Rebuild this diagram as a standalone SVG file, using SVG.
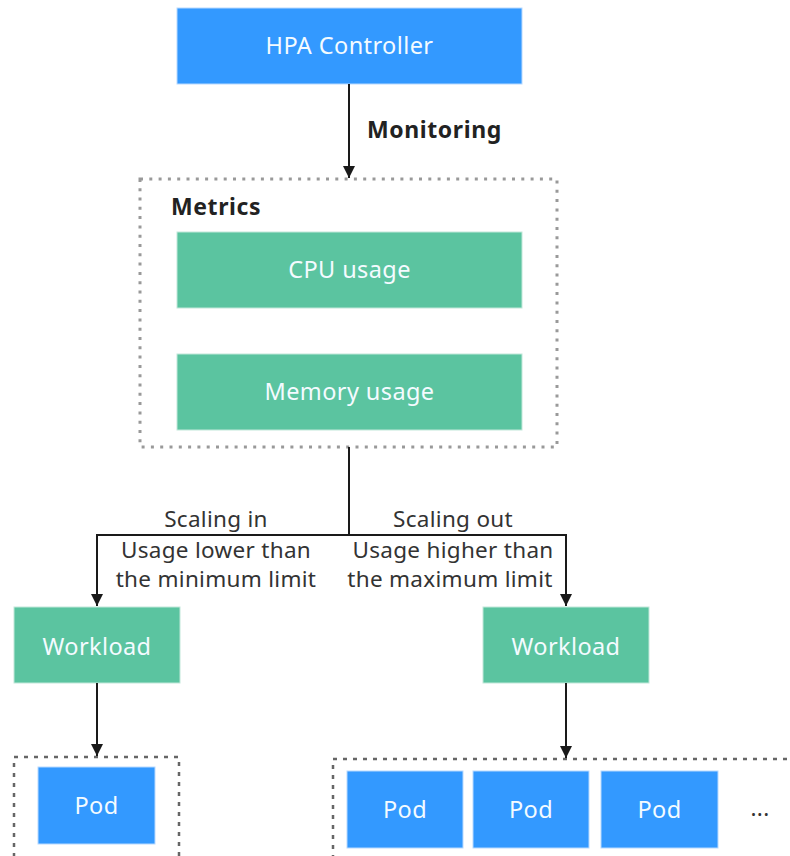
<svg xmlns="http://www.w3.org/2000/svg" width="790" height="856" viewBox="0 0 790 856">
  <defs>
    <marker id="arrow" viewBox="0 0 10 10" refX="10" refY="5" markerWidth="12" markerHeight="12" markerUnits="userSpaceOnUse" orient="auto">
      <path d="M0,0 L10,5 L0,10 z" fill="#1a1a1a"/>
    </marker>
    <style>
      .blue { fill: #3399ff; stroke: #b8d9ff; stroke-width: 1; }
      .green { fill: #5bc4a0; stroke: #c2e8da; stroke-width: 1; }
      .lbl { font-family: "Noto Sans", "Open Sans", sans-serif; font-size: 23.5px; letter-spacing: 0.4px; fill: #f4fbff; text-anchor: middle; }
      .cap { font-family: "Noto Sans", "Open Sans", sans-serif; font-size: 22.5px; letter-spacing: 0.3px; fill: #333; text-anchor: middle; }
      .bold { font-family: "Noto Sans", "Open Sans", sans-serif; font-size: 23px; letter-spacing: 0.6px; font-weight: bold; fill: #222; }
      .dots { fill: none; stroke: #999; stroke-width: 3; stroke-dasharray: 3 6.3; }
      .dash { fill: none; stroke: #666; stroke-width: 2.5; stroke-dasharray: 4 6; }
      .conn { fill: none; stroke: #1a1a1a; stroke-width: 2; }
    </style>
  </defs>

  <g id="hpa-controller">
    <rect class="blue" x="177" y="8" width="345" height="76"/>
    <text class="lbl" x="349.5" y="54">HPA Controller</text>
  </g>

  <g id="metrics">
    <rect class="dots" x="140" y="179" width="417" height="268"/>
    <text class="bold" x="171" y="215">Metrics</text>
  </g>

  <g id="cpu-usage">
    <rect class="green" x="177" y="232" width="345" height="76"/>
    <text class="lbl" x="349.5" y="278">CPU usage</text>
  </g>

  <g id="memory-usage">
    <rect class="green" x="177" y="354" width="345" height="76"/>
    <text class="lbl" x="349.5" y="400">Memory usage</text>
  </g>

  <g id="workload-in">
    <rect class="green" x="14" y="607" width="166" height="76"/>
    <text class="lbl" x="97" y="655">Workload</text>
  </g>

  <g id="workload-out">
    <rect class="green" x="483" y="607" width="166" height="76"/>
    <text class="lbl" x="566" y="655">Workload</text>
  </g>

  <g id="pods-in">
    <rect class="dash" x="14" y="757" width="165" height="110"/>
    <rect class="blue" x="38" y="767" width="117" height="77"/>
    <text class="lbl" x="96.5" y="814">Pod</text>
  </g>

  <g id="pods-out">
    <rect class="dash" x="333" y="759" width="480" height="110"/>
    <rect class="blue" x="347" y="771" width="116" height="77"/>
    <text class="lbl" x="405" y="818">Pod</text>
    <rect class="blue" x="473" y="771" width="116" height="77"/>
    <text class="lbl" x="531" y="818">Pod</text>
    <rect class="blue" x="601" y="771" width="117" height="77"/>
    <text class="lbl" x="659.5" y="818">Pod</text>
    <text class="cap" x="760" y="816">...</text>
  </g>

  <g id="connectors">
    <line class="conn" x1="349" y1="84" x2="349" y2="178" marker-end="url(#arrow)"/>
    <text class="bold" x="367" y="138">Monitoring</text>

    <polyline class="conn" points="349,447 349,535 97,535 97,606" marker-end="url(#arrow)"/>
    <polyline class="conn" points="349,535 566,535 566,606" marker-end="url(#arrow)"/>
    <text class="cap" x="216" y="527">Scaling in</text>
    <text class="cap" x="216" y="558">Usage lower than</text>
    <text class="cap" x="216" y="587">the minimum limit</text>
    <text class="cap" x="453" y="527">Scaling out</text>
    <text class="cap" x="453" y="558">Usage higher than</text>
    <text class="cap" x="450" y="587">the maximum limit</text>

    <line class="conn" x1="97" y1="683" x2="97" y2="756" marker-end="url(#arrow)"/>
    <line class="conn" x1="566" y1="683" x2="566" y2="758" marker-end="url(#arrow)"/>
  </g>
</svg>
